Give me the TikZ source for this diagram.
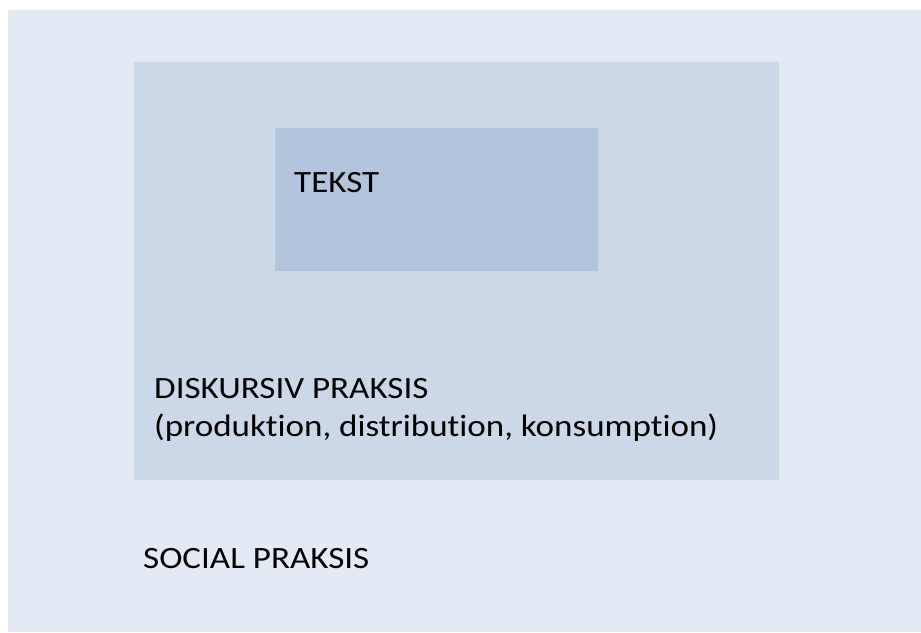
\documentclass[tikz,border=0pt]{standalone}
\usepackage{fontspec}
\setmainfont[Ligatures=NoCommon]{Carlito}
\usepackage{tikz}
\usetikzlibrary{positioning}

\definecolor{socialfill}{RGB}{227,234,243}
\definecolor{diskfill}{RGB}{204,216,231}
\definecolor{tekstfill}{RGB}{179,197,220}

\begin{document}
\begin{tikzpicture}
[
x=1pt, y=-1pt,
box/.style={rectangle, inner sep=0pt, anchor=north west},
label/.style={anchor=base west, inner sep=0pt, xscale=1.13, transform shape,
	font=\fontsize{31}{37.5}\selectfont, align=left}]
\useasboundingbox (0,0) rectangle (921,632);
\node[box, fill=socialfill, minimum width=913pt, minimum height=622pt] (social) at (8,10) {};
\node[box, fill=diskfill, minimum width=645pt, minimum height=418pt] (diskursiv) at (134,62) {};
\node[box, fill=tekstfill, minimum width=323pt, minimum height=143pt] (tekst) at (275,128) {};
\node[label] (tekstlabel) at (294,192) {TEKST};
\node[label] (disklabel) at (154,436) {DISKURSIV PRAKSIS\\(produktion, distribution, konsumption)};
\node[label] (sociallabel) at (143,568) {SOCIAL PRAKSIS};
\end{tikzpicture}
\end{document}
